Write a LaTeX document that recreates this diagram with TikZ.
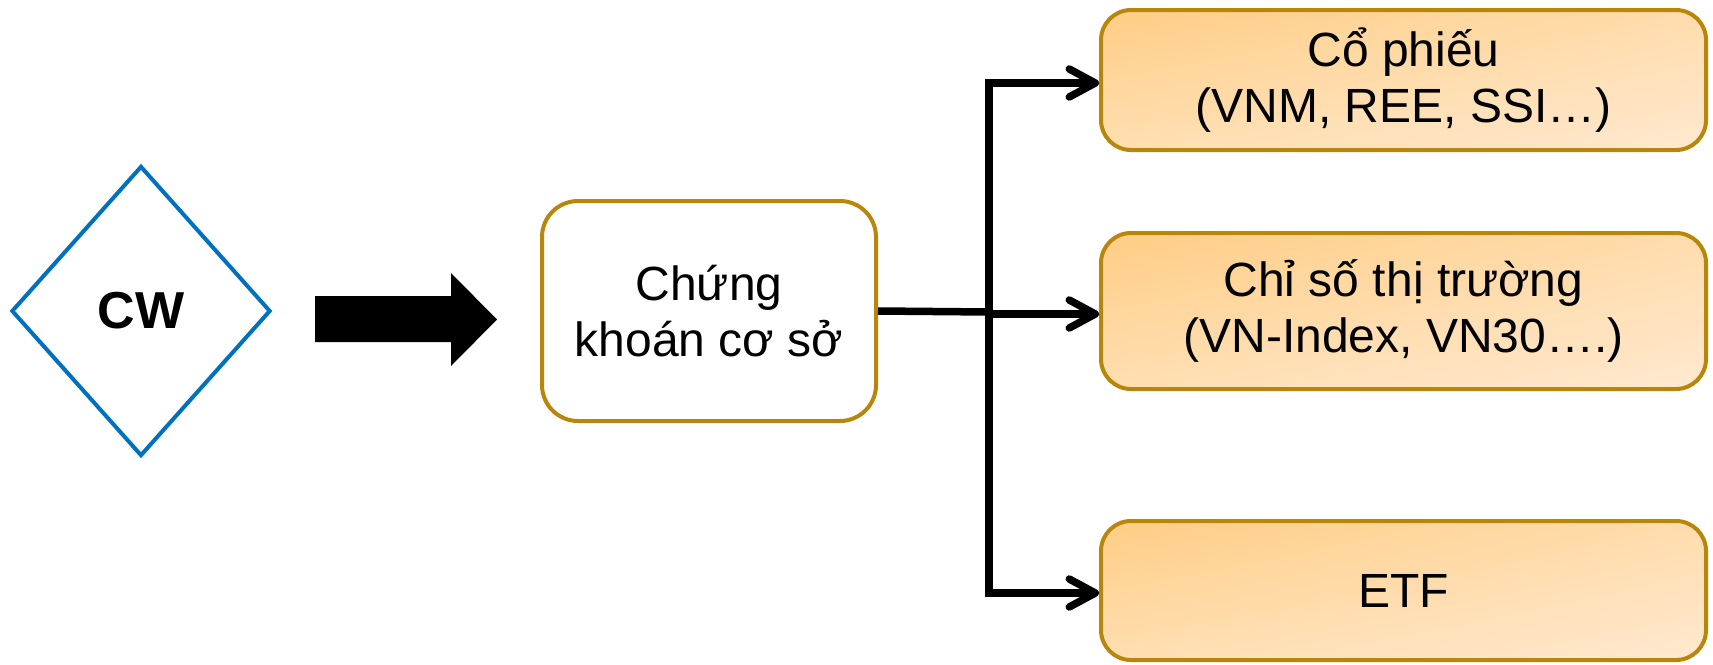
\documentclass[tikz,border=0pt]{standalone}
\usepackage{fontspec}
\setmainfont{Liberation Sans}
\usetikzlibrary{shapes.geometric,arrows.meta,shadings}

\definecolor{cwblue}{HTML}{0070C0}
\definecolor{goldline}{HTML}{B8860B}
\definecolor{peachUL}{HTML}{FFCD85}
\definecolor{peachUR}{HTML}{FFDCAD}
\definecolor{peachLL}{HTML}{FFDEB1}
\definecolor{peachLR}{HTML}{FFE9D0}

\begin{document}
\begin{tikzpicture}[x=1pt,y=-1pt,
  chev/.tip={Straight Barb[length=26pt,width=28pt,round]},
  txt/.style={font=\fontsize{48}{56}\selectfont, align=center, text=black},
  basebox/.style={txt, draw=goldline, line width=4pt, rounded corners=36pt,
    fill=white, minimum width=334pt, minimum height=220pt, inner sep=0pt},
  itembox/.style={txt, draw=goldline, line width=4pt, rounded corners=30pt,
    upper left=peachUL, upper right=peachUR,
    lower left=peachLL, lower right=peachLR,
    minimum width=605pt, inner sep=0pt},
  conn/.style={line width=7.5pt, draw=black},
  cwshape/.style={diamond, draw=cwblue, line width=4pt, fill=white,
    minimum width=259pt, minimum height=290pt, inner sep=0pt,
    font=\fontsize{52}{60}\selectfont\bfseries}
]
\useasboundingbox (0,0) rectangle (1713,664);

% left: the warrant and the block arrow pointing to its underlying
\node[cwshape] (cw) at (141,311) {CW};
\fill[black] (315,296) -- (451,296) -- (451,273) -- (497,319.5)
  -- (451,366) -- (451,342) -- (315,342) -- cycle;

% underlying security
\node[basebox] (base) at (709,311) {Chứng\\khoán cơ sở};

% the three kinds of underlying
\node[itembox, minimum height=140pt] (stock) at (1403.5,80)
  {Cổ phiếu\\(VNM, REE, SSI…)};
\node[itembox, minimum height=156pt] (index) at (1403.5,311)
  {Chỉ số thị trường\\(VN-Index, VN30….)};
\node[itembox, minimum height=139pt] (etf) at (1403.5,590.5) {ETF};

% branching connectors
\coordinate (jt) at (989,83);
\coordinate (jm) at (989,312);
\coordinate (jm2) at (989,314);
\coordinate (jb) at (989,593);
\draw[conn] (base.east) -- (jm);
\draw[conn, chev-chev] (jt -| stock.west) -- (jt) -- (jb) -- (jb -| etf.west);
\draw[conn, -chev] (jm2) -- (jm2 -| index.west);
\end{tikzpicture}
\end{document}
